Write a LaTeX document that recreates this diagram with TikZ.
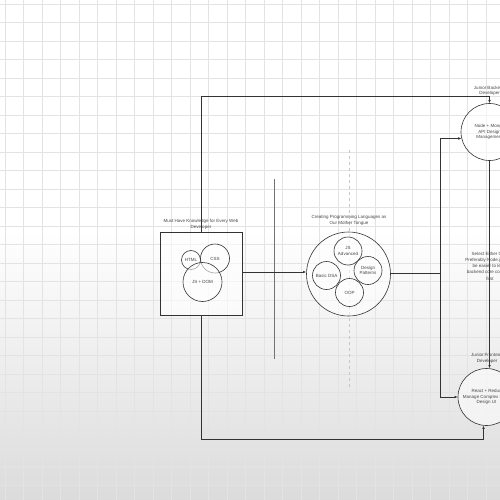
\documentclass[tikz,border=0pt]{standalone}
\usepackage{fontspec}
\setmainfont{Liberation Sans}
\usetikzlibrary{arrows.meta}

\begin{document}
\begin{tikzpicture}[x=1pt, y=-1pt,
        every node/.style={text=black!72, font=\fontsize{4.5}{5.6}\selectfont, align=center},
        bubble/.style={circle, draw=black!80, line width=0.6pt, fill=white, fill opacity=0.55, text opacity=1, inner sep=0pt},
        link/.style={draw=black!80, line width=0.6pt},
        arr/.style={link, -{Latex[length=3.2pt, width=2.6pt]}},
        gridline/.style={draw=black!11, line width=0.5pt}]
        \clip (0,0) rectangle (500,500);
        \fill[white] (0,0) rectangle (500,230);
        \shade[top color=white, bottom color=black!14] (0,230) rectangle (500,500);
        \foreach \i in {0,...,27} {
            \draw[gridline] ({5+18.5*\i},0) -- ++(0,500);
            \draw[gridline] (0,{4+18.5*\i}) -- ++(500,0);
        }
        % guides
        \draw[black!55, line width=1pt] (274,179) -- (274,359);
        \draw[black!22, dashed, line width=0.4pt] (349,150) -- (349,390);

        % basics
        \node (basetitle) at (201,224.5) {Must Have Knowledge for Every Web\\Developer};
        \node[draw=black!80, line width=0.6pt, fill=white, fill opacity=0.6, minimum width=82, minimum height=83] (base) at (201,273.5) {};
        \node[bubble, minimum size=19] (html) at (191,260) {HTML};
        \node[bubble, minimum size=29] (css) at (215,258.5) {CSS};
        \node[bubble, minimum size=39] (jsdom) at (202.5,282) {JS + DOM};

        % languages
        \node (langtitle) at (349,220.5) {Creating Programming Languages as\\Our Mother Tongue};
        \node[bubble, minimum size=84] (lang) at (348.5,274) {};
        \node[bubble, minimum size=28] (jsadv) at (348,251) {JS\\Advanced};
        \node[bubble, minimum size=28] (dsa) at (326.5,275.5) {Basic DSA};
        \node[bubble, minimum size=28] (patterns) at (368,270.5) {Design\\Patterns};
        \node[bubble, minimum size=28] (oop) at (349.5,292.5) {OOP};

        % tracks
        \node (backtitle) at (489.5,91) {Junior Backend\\Developer};
        \node[bubble, minimum size=57] (back) at (489.5,132) {Node + Mongo\\API Design\\Management};
        \node[font=\fontsize{4.5}{6.3}\selectfont] (choice) at (490,266) {Select Either One,\\Preferably Node.js, it will\\be easier to learn\\backend core concepts\\first};
        \node (fronttitle) at (487,358.5) {Junior Frontend\\Developer};
        \node[bubble, minimum size=57] (front) at (486.5,397) {React + Redux\\Manage Complex State\\Design UI};

        \coordinate (split) at (440,273);

        \draw[arr] (base.east |- 0,272) -- (lang.west |- 0,272);
        \draw[link] (lang.east |- split) -- (split);
        \draw[arr] (split) |- (back.193);
        \draw[arr] (split) |- (front.west);
        \draw[arr] (base.north) -- ++(0,-135) -| (back.north);
        \draw[arr] (base.south) -- ++(0,124) -| (front.264);
        \draw[arr] (back.south) -- (back.south |- front.north);
    \end{tikzpicture}
\end{document}
